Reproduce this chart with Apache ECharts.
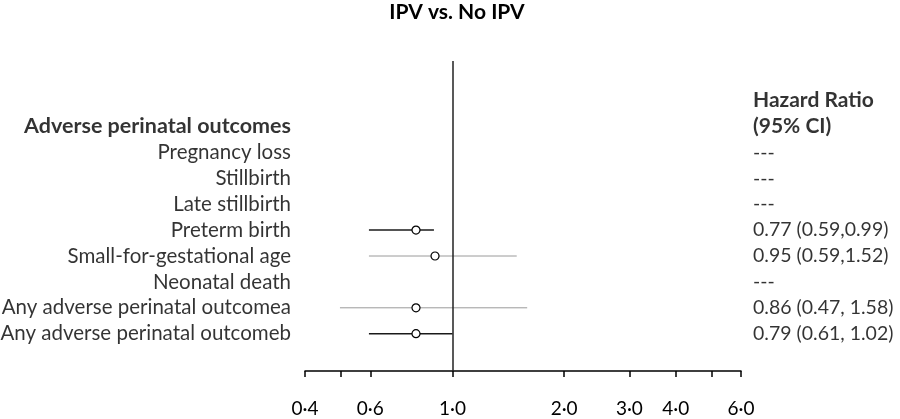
<!DOCTYPE html>
<html><head><meta charset="utf-8">
<script src="https://cdn.jsdelivr.net/npm/echarts@6/dist/echarts.min.js"></script>
<style>html,body{margin:0;padding:0;background:#fff}#c{width:900px;height:419px}</style>
</head><body><div id="c"></div>
<script>
// Row 0: top header line of right column; row 1: section headers; rows 2-9: outcomes
const rowLabels = ['', 'Adverse perinatal outcomes', 'Pregnancy loss', 'Stillbirth', 'Late stillbirth',
  'Preterm birth', 'Small-for-gestational age', 'Neonatal death',
  'Any adverse perinatal outcomea', 'Any adverse perinatal outcomeb'];
const hrLabels = ['Hazard Ratio', '(95% CI)', '---', '---', '---', '0.77 (0.59,0.99)',
  '0.95 (0.59,1.52)', '---', '0.86 (0.47, 1.58)', '0.79 (0.61, 1.02)'];
const boldRows = [0, 1];
// values as drawn in the plot
const estimate = [null, null, null, null, null, 0.797, 0.897, null, 0.797, 0.797];
const lower    = [null, null, null, null, null, 0.595, 0.595, null, 0.497, 0.595];
const upper    = [null, null, null, null, null, 0.891, 1.49, null, 1.59, 1.0];
const lightRows = [6, 8];
const tickValues = [0.4, 0.5, 0.6, 1, 2, 3, 4, 5, 6];
const tickLabels = [0.4, 0.6, 1, 2, 3, 4, 6];

const FONT = 'Lato';
const chart = echarts.init(document.getElementById('c'));
const ciData = [], ptData = [];
estimate.forEach((e, i) => {
  if (e != null) {
    ciData.push([lower[i], upper[i], i]);
    ptData.push([e, i]);
  }
});
chart.setOption({
  animation: false,
  title: {text: 'IPV vs. No IPV', left: 452, textAlign: 'center', top: -3,
    textStyle: {fontFamily: FONT, fontSize: 21, fontWeight: 'bold', color: '#000'}},
  grid: {left: 305, right: 159, top: 61, bottom: 48},
  xAxis: {type: 'log', min: 0.4, max: 6, logBase: 10, position: 'bottom',
    axisLine: {onZero: false, lineStyle: {color: '#000', width: 1.5}},
    axisTick: {show: true, length: 6, lineStyle: {color: '#000', width: 1.5}, customValues: tickValues},
    axisLabel: {customValues: tickLabels, margin: 28, fontFamily: FONT, fontSize: 19, color: '#000',
      formatter: v => Number(v).toFixed(1).replace('.', '\u00B7')},
    splitLine: {show: false}, minorTick: {show: false}},
  yAxis: {type: 'value', inverse: true, min: -1.53, max: 10.44, show: false},
  series: [
    {type: 'custom', clip: false,
      renderItem: (params, api) => {
        const a = api.coord([api.value(0), api.value(2)]);
        const b = api.coord([api.value(1), api.value(2)]);
        const light = lightRows.indexOf(api.value(2)) >= 0;
        return {type: 'line', shape: {x1: a[0], y1: a[1], x2: b[0], y2: b[1]},
          style: {stroke: light ? '#9a9a9a' : '#1a1a1a', lineWidth: light ? 1 : 1.5}};
      },
      encode: {x: [0, 1], y: 2},
      data: ciData},
    {type: 'scatter', symbol: 'circle', symbolSize: 8, z: 5,
      itemStyle: {color: '#fff', borderColor: '#000', borderWidth: 1.2, opacity: 1},
      data: ptData,
      markLine: {silent: true, symbol: ['none', 'none'], label: {show: false},
        lineStyle: {color: '#222', width: 1.5, type: 'solid'},
        data: [{xAxis: 1}]}},
    {type: 'scatter', symbolSize: 0, clip: false, silent: true,
      data: rowLabels.map((t, i) => {
        const b = boldRows.indexOf(i) >= 0;
        return {value: [0.4, i], label: {formatter: t, fontWeight: b ? 'bold' : 'normal', fontSize: b ? 21.5 : 20.5}};
      }),
      label: {show: true, position: 'left', distance: 14, fontFamily: FONT, fontSize: 20.5, color: '#000'}},
    {type: 'scatter', symbolSize: 0, clip: false, silent: true,
      data: hrLabels.map((t, i) => {
        const b = boldRows.indexOf(i) >= 0;
        return {value: [6, i], label: {formatter: t, fontWeight: b ? 'bold' : 'normal', fontSize: b ? 21 : 19.5}};
      }),
      label: {show: true, position: 'right', distance: 12, fontFamily: FONT, fontSize: 19.5, color: '#000'}}
  ]
});
</script></body></html>
